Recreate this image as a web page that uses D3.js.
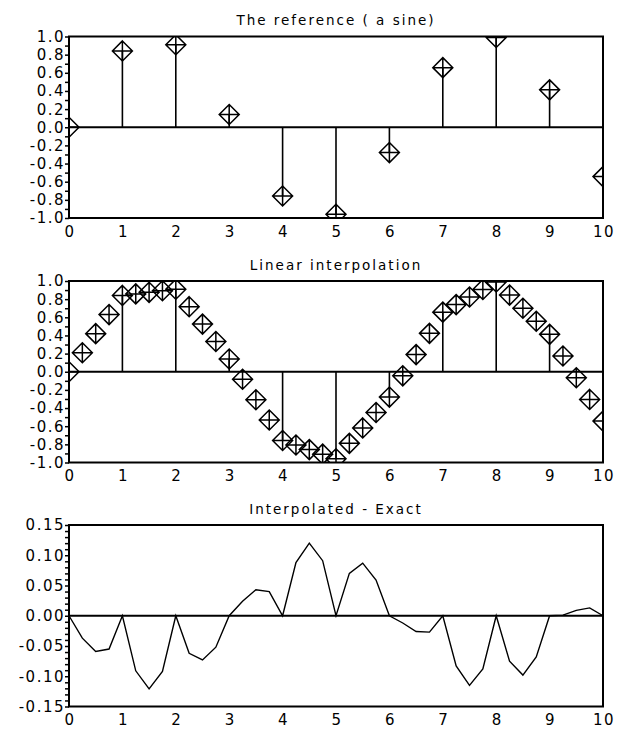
<!DOCTYPE html>
<html>
<head>
<meta charset="utf-8">
<script src="https://cdn.jsdelivr.net/npm/d3@7"></script>
<style>
  body { margin: 0; background: #fff; }
  svg text { font-family: "DejaVu Sans", sans-serif; fill: #000; }
</style>
</head>
<body>
<div id="chart"></div>
<script>
// reference samples (a sine)
var refX = [0, 1, 2, 3, 4, 5, 6, 7, 8, 9, 10];
var refY = [0, 0.841, 0.909, 0.141, -0.757, -0.959, -0.279, 0.657, 0.989, 0.412, -0.544];

// linear interpolation at quarter steps (middle panel)
var interpX = [0, 0.25, 0.5, 0.75, 1, 1.25, 1.5, 1.75, 2, 2.25, 2.5, 2.75, 3, 3.25, 3.5, 3.75,
  4, 4.25, 4.5, 4.75, 5, 5.25, 5.5, 5.75, 6, 6.25, 6.5, 6.75, 7, 7.25, 7.5, 7.75,
  8, 8.25, 8.5, 8.75, 9, 9.25, 9.5, 9.75, 10];
var interpY = [0, 0.21, 0.42, 0.63, 0.841, 0.858, 0.875, 0.892, 0.909, 0.717, 0.525, 0.333,
  0.141, -0.083, -0.308, -0.532, -0.757, -0.807, -0.858, -0.908, -0.959, -0.789, -0.619,
  -0.449, -0.279, -0.045, 0.189, 0.423, 0.657, 0.740, 0.823, 0.906, 0.989, 0.845, 0.700,
  0.556, 0.412, 0.173, -0.066, -0.305, -0.544];

// interpolated minus exact (bottom panel)
var errY = [0, -0.037, -0.059, -0.055, 0, -0.091, -0.121, -0.092, 0, -0.062, -0.073, -0.052,
  0, 0.024, 0.043, 0.040, 0, 0.088, 0.120, 0.091, 0, 0.070, 0.087, 0.059, 0, -0.012,
  -0.026, -0.027, 0, -0.083, -0.115, -0.088, 0, -0.075, -0.098, -0.068, 0, 0.001,
  0.009, 0.013, 0];

var xTicks = [0, 1, 2, 3, 4, 5, 6, 7, 8, 9, 10];
var sineLabels = [1.0, 0.8, 0.6, 0.4, 0.2, 0.0, -0.2, -0.4, -0.6, -0.8, -1.0];
var sineMinor = [1.0, 0.9, 0.8, 0.7, 0.6, 0.5, 0.4, 0.3, 0.2, 0.1, 0.0, -0.1, -0.2, -0.3,
  -0.4, -0.5, -0.6, -0.7, -0.8, -0.9, -1.0];
var errLabels = [0.15, 0.10, 0.05, 0.00, -0.05, -0.10, -0.15];
var errMinor = [0.15, 0.14, 0.13, 0.12, 0.11, 0.10, 0.09, 0.08, 0.07, 0.06, 0.05, 0.04, 0.03,
  0.02, 0.01, 0.00, -0.01, -0.02, -0.03, -0.04, -0.05, -0.06, -0.07, -0.08, -0.09, -0.10,
  -0.11, -0.12, -0.13, -0.14, -0.15];

var W = 625, H = 729;
var left = 69, right = 603, plotH = 181.5;
var mk = 10; // marker half size

var svg = d3.select("#chart").append("svg")
  .attr("width", W)
  .attr("height", H);

var x = d3.scaleLinear().domain([0, 10]).range([left, right]);

function panel(id, top, title, yDomain, labels, minor, fmt) {
  var y = d3.scaleLinear().domain(yDomain).range([top + plotH, top]);
  var g = svg.append("g");

  g.append("clipPath").attr("id", id)
    .append("rect")
    .attr("x", left).attr("y", top)
    .attr("width", right - left).attr("height", plotH);

  // title
  g.append("text")
    .attr("x", (left + right) / 2)
    .attr("y", top - 11.5)
    .attr("text-anchor", "middle")
    .attr("font-size", "13.5px")
    .attr("letter-spacing", "2px")
    .text(title);

  // y axis with minor ticks, labels every other
  var yAxis = d3.axisLeft(y).tickValues(minor).tickSize(4).tickFormat("");
  var ya = g.append("g").attr("transform", "translate(" + left + ",0)").call(yAxis);
  ya.select(".domain").remove();
  ya.selectAll("line").attr("stroke", "#000").attr("stroke-width", 1.5);

  g.selectAll(".ylab").data(labels).enter().append("text")
    .attr("x", left - 4)
    .attr("y", d => y(d))
    .attr("dy", "0.36em")
    .attr("text-anchor", "end")
    .attr("font-size", "15px")
    .attr("letter-spacing", "1.5px")
    .text(d => d3.format(fmt)(d).replace("−", "-"));

  // x labels
  g.selectAll(".xlab").data(xTicks).enter().append("text")
    .attr("x", d => x(d) + 1)
    .attr("y", top + plotH + 18.5)
    .attr("text-anchor", "middle")
    .attr("font-size", "15px")
    .attr("letter-spacing", "1.5px")
    .text(d => d);

  // frame
  g.append("rect")
    .attr("x", left).attr("y", top)
    .attr("width", right - left).attr("height", plotH)
    .attr("fill", "none")
    .attr("stroke", "#000")
    .attr("stroke-width", 2);

  var body = g.append("g").attr("clip-path", "url(#" + id + ")");
  // zero line
  body.append("line")
    .attr("x1", left).attr("x2", right)
    .attr("y1", y(0)).attr("y2", y(0))
    .attr("stroke", "#000").attr("stroke-width", 2);

  return { y: y, body: body };
}

function stems(p, xs, ys) {
  p.body.selectAll(".stem").data(xs).enter().append("line")
    .attr("x1", d => x(d)).attr("x2", d => x(d))
    .attr("y1", p.y(0))
    .attr("y2", (d, i) => p.y(ys[i]))
    .attr("stroke", "#000")
    .attr("stroke-width", 1.6);
}

function markers(p, xs, ys) {
  var h = mk;
  p.body.selectAll(".mark").data(xs).enter().append("path")
    .attr("transform", (d, i) => "translate(" + x(d) + "," + p.y(ys[i]) + ")")
    .attr("d", "M0," + (-h) + "L" + h + ",0L0," + h + "L" + (-h) + ",0Z" +
      "M" + (-h) + ",0H" + h + "M0," + (-h) + "V" + h)
    .attr("fill", "none")
    .attr("stroke", "#000")
    .attr("stroke-width", 1.5);
}

var p1 = panel("clipA", 36.5, "The reference ( a sine)", [-1, 1], sineLabels, sineMinor, ".1f");
stems(p1, refX, refY);
markers(p1, refX, refY);

var p2 = panel("clipB", 281, "Linear interpolation", [-1, 1], sineLabels, sineMinor, ".1f");
stems(p2, refX, refY);
markers(p2, interpX, interpY);

var p3 = panel("clipC", 525, "Interpolated - Exact", [-0.15, 0.15], errLabels, errMinor, ".2f");
p3.body.append("path")
  .datum(errY)
  .attr("d", d3.line().x((d, i) => x(interpX[i])).y(d => p3.y(d)))
  .attr("fill", "none")
  .attr("stroke", "#000")
  .attr("stroke-width", 1.4);
</script>
</body>
</html>
